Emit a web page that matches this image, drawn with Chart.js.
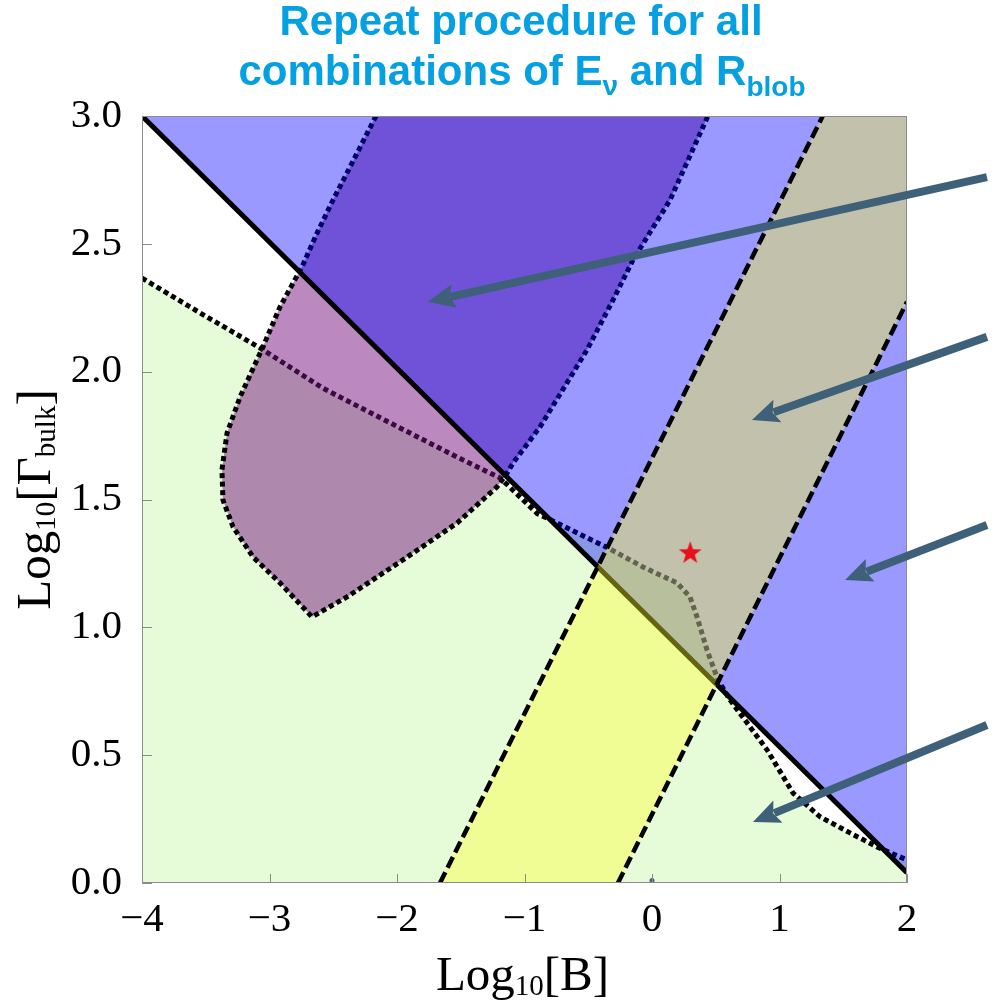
<!DOCTYPE html>
<html>
<head>
<meta charset="utf-8">
<title>Log10[B] vs Log10[Γbulk]</title>
<script src="https://cdn.jsdelivr.net/npm/chart.js@4.4.1/dist/chart.umd.min.js"></script>
<style>
  body { margin: 0; background: #fff; }
  #wrap { width: 992px; height: 1008px; }
</style>
</head>
<body>
<div id="wrap"><canvas id="paramChart" width="992" height="1008"></canvas></div>
<script>
// axes
const xTicks = [-4, -3, -2, -1, 0, 1, 2];
const yTicks = [0, 0.5, 1, 1.5, 2, 2.5, 3];

// [log10 B, log10 Gamma_bulk] pairs
const diagonal = [[-4, 3], [2, 0.04]];
const dashLeft = [[-1.663, 0], [1.339, 3]];
const dashRight = [[-0.267, 0], [2, 2.273]];

const greenEdge = [
  [-4, 2.366], [-3.545, 2.23], [-3.075, 2.093], [-2.58, 1.935], [-2.055, 1.8],
  [-1.529, 1.666], [-1.19, 1.584], [-0.9, 1.445], [-0.75, 1.41], [-0.55, 1.36],
  [-0.35, 1.312], [-0.071, 1.236], [0.196, 1.174], [0.298, 1.119], [0.353, 1.041],
  [0.431, 0.912], [0.518, 0.794], [0.612, 0.716], [0.902, 0.521], [1.106, 0.352],
  [1.318, 0.259], [1.553, 0.196], [1.765, 0.141], [2, 0.09]
];

const pinkEdge = [
  [-2.165, 3], [-2.369, 2.8], [-2.502, 2.671], [-2.627, 2.542], [-2.745, 2.41],
  [-2.918, 2.253], [-3.051, 2.097], [-3.231, 1.901], [-3.333, 1.76], [-3.373, 1.616],
  [-3.365, 1.498], [-3.286, 1.393], [-3.129, 1.275], [-2.918, 1.174], [-2.667, 1.041],
  [-2.392, 1.119], [-1.953, 1.264], [-1.529, 1.408], [-1.216, 1.549], [-1.14, 1.6],
  [-1.09, 1.643], [-0.878, 1.784], [-0.667, 1.956], [-0.51, 2.085], [-0.306, 2.28],
  [-0.149, 2.437], [0.141, 2.671], [0.439, 3]
];

const blueArea = [[-4, 3], [2, 3], [2, 0.04]];
const greenArea = greenEdge.concat([[2, 0], [-4, 0]]);
const bandArea = [[-1.663, 0], [-0.267, 0], [2, 2.273], [2, 3], [1.339, 3]];

const bestFit = [[0.3, 1.29]];
const origin = [[0, 0.01]];

// arrows: [tail, head]
const arrows = [
  [[2.627, 2.761], [-1.757, 2.273]],
  [[2.627, 2.136], [0.784, 1.811]],
  [[2.627, 1.40], [1.514, 1.185]],
  [[2.627, 0.618], [0.792, 0.239]]
];

const serif = "'Liberation Serif', 'Times New Roman', serif";
const sans = "'Liberation Sans', Arial, sans-serif";

const pts = (arr) => arr.map(([x, y]) => ({ x, y }));

function area(data, color) {
  return { data: pts(data), showLine: true, fill: 'shape', backgroundColor: color,
    borderWidth: 0, pointRadius: 0 };
}

function edge(data, color, width, dash) {
  return { data: pts(data), showLine: true, fill: false, borderColor: color,
    borderWidth: width, borderDash: dash, borderCapStyle: 'butt', pointRadius: 0 };
}

function makeStar(r, color) {
  const c = document.createElement('canvas');
  c.width = c.height = 2 * r + 2;
  const g = c.getContext('2d');
  g.translate(r + 1, r + 1);
  g.beginPath();
  for (let i = 0; i < 10; i++) {
    const rad = i % 2 ? r * 0.4 : r;
    const a = -Math.PI / 2 + i * Math.PI / 5;
    g.lineTo(rad * Math.cos(a), rad * Math.sin(a));
  }
  g.closePath();
  g.fillStyle = color;
  g.fill();
  return c;
}

// bottom layer first
const layers = [
  area(greenArea, '#e6fcd8'),
  edge(greenEdge, '#000', 5, [5, 3.5]),
  area(pinkEdge, 'rgba(120, 20, 130, 0.5)'),
  edge(pinkEdge, '#000', 5, [5, 3.5]),
  area(blueArea, 'rgba(0, 0, 255, 0.4)'),
  edge(diagonal, '#000', 5, []),
  area(bandArea, 'rgba(255, 255, 40, 0.39)'),
  edge(dashLeft, '#000', 4.5, [12, 5]),
  edge(dashRight, '#000', 4.5, [12, 5]),
  { data: pts(origin), pointRadius: 2.5, pointBackgroundColor: '#4a5f8a', pointBorderWidth: 0 },
  { data: pts(bestFit), pointStyle: makeStar(12, '#e8101a'), pointRadius: 12 }
];
layers.forEach((d, i) => { d.order = layers.length - i; });

function drawSubText(ctx, parts, x, y, align) {
  // parts: [text, font, dy]
  let total = 0;
  parts.forEach(([t, f]) => { ctx.font = f; total += ctx.measureText(t).width; });
  let cx = align === 'center' ? x - total / 2 : x;
  ctx.textAlign = 'left';
  ctx.textBaseline = 'alphabetic';
  parts.forEach(([t, f, dy]) => {
    ctx.font = f;
    ctx.fillText(t, cx, y + dy);
    cx += ctx.measureText(t).width;
  });
}

const decorations = {
  id: 'decorations',
  afterDatasetsDraw(chart) {
    const { ctx, chartArea: a, scales: { x, y } } = chart;
    ctx.save();
    ctx.strokeStyle = '#8c8c8c';
    ctx.lineWidth = 1;
    ctx.strokeRect(a.left + 0.5, a.top + 0.5, a.right - a.left - 1, a.bottom - a.top - 1);
    ctx.beginPath();
    xTicks.forEach((v) => {
      const px = Math.round(x.getPixelForValue(v)) + 0.5;
      ctx.moveTo(px, a.bottom);
      ctx.lineTo(px, a.bottom - 9);
    });
    yTicks.forEach((v) => {
      const py = Math.round(y.getPixelForValue(v)) + 0.5;
      ctx.moveTo(a.left, py);
      ctx.lineTo(a.left + 10, py);
    });
    ctx.stroke();
    ctx.restore();
  },
  afterDraw(chart) {
    const { ctx, chartArea: a, scales: { x, y } } = chart;
    ctx.save();

    // arrows
    ctx.strokeStyle = '#3e6078';
    ctx.fillStyle = '#3e6078';
    arrows.forEach(([from, to]) => {
      const x0 = x.getPixelForValue(from[0]), y0 = y.getPixelForValue(from[1]);
      const x1 = x.getPixelForValue(to[0]), y1 = y.getPixelForValue(to[1]);
      const ang = Math.atan2(y1 - y0, x1 - x0);
      const len = 27, half = 12;
      const bx = x1 - len * Math.cos(ang), by = y1 - len * Math.sin(ang);
      ctx.lineWidth = 8;
      ctx.beginPath();
      ctx.moveTo(x0, y0);
      ctx.lineTo(bx + 4 * Math.cos(ang), by + 4 * Math.sin(ang));
      ctx.stroke();
      ctx.beginPath();
      ctx.moveTo(x1, y1);
      ctx.lineTo(bx - half * Math.sin(ang), by + half * Math.cos(ang));
      ctx.lineTo(bx + 5 * Math.cos(ang), by + 5 * Math.sin(ang));
      ctx.lineTo(bx + half * Math.sin(ang), by - half * Math.cos(ang));
      ctx.closePath();
      ctx.fill();
    });

    // title
    ctx.fillStyle = '#05a0e2';
    const big = 'bold 42px ' + sans, small = 'bold 28px ' + sans;
    drawSubText(ctx, [['Repeat procedure for all', big, 0]], 521, 35, 'center');
    drawSubText(ctx, [['combinations of E', big, 0], ['\u03bd', small, 10],
      [' and R', big, 0], ['blob', small, 11]], 522, 85, 'center');

    // axis titles
    ctx.fillStyle = '#000';
    const main = '49px ' + serif, sub = '29px ' + serif;
    const cx = (a.left + a.right) / 2;
    drawSubText(ctx, [['Log', main, 0], ['10', sub, 5], ['[B]', main, 0]], cx - 2, 990, 'center');
    ctx.translate(50, (a.top + a.bottom) / 2);
    ctx.rotate(-Math.PI / 2);
    drawSubText(ctx, [['Log', main, 0], ['10', sub, 5], ['[\u0393', main, 0],
      ['bulk', sub, 5], [']', main, 0]], 0, 0, 'center');
    ctx.restore();
  }
};

new Chart(document.getElementById('paramChart'), {
  type: 'scatter',
  data: { datasets: layers },
  options: {
    responsive: false,
    devicePixelRatio: 1,
    animation: false,
    events: [],
    layout: { padding: { top: 116, right: 85, left: 0, bottom: 0 } },
    plugins: { legend: { display: false }, tooltip: { enabled: false } },
    scales: {
      x: {
        type: 'linear', min: -4, max: 2,
        afterBuildTicks: (s) => { s.ticks = xTicks.map((v) => ({ value: v })); },
        afterFit: (s) => { s.height = 125; },
        grid: { display: false },
        border: { display: false },
        ticks: {
          font: { family: serif, size: 41 }, color: '#000', padding: 5,
          autoSkip: false, maxRotation: 0, minRotation: 0,
          callback: (v) => (v < 0 ? '\u2212' + Math.abs(v) : String(v))
        }
      },
      y: {
        type: 'linear', min: 0, max: 3,
        afterBuildTicks: (s) => { s.ticks = yTicks.map((v) => ({ value: v })); },
        afterFit: (s) => { s.width = 142; },
        grid: { display: false },
        border: { display: false },
        ticks: {
          font: { family: serif, size: 41 }, color: '#000', padding: 12,
          autoSkip: false,
          callback: (v) => v.toFixed(1)
        }
      }
    }
  },
  plugins: [decorations]
});
</script>
</body>
</html>
